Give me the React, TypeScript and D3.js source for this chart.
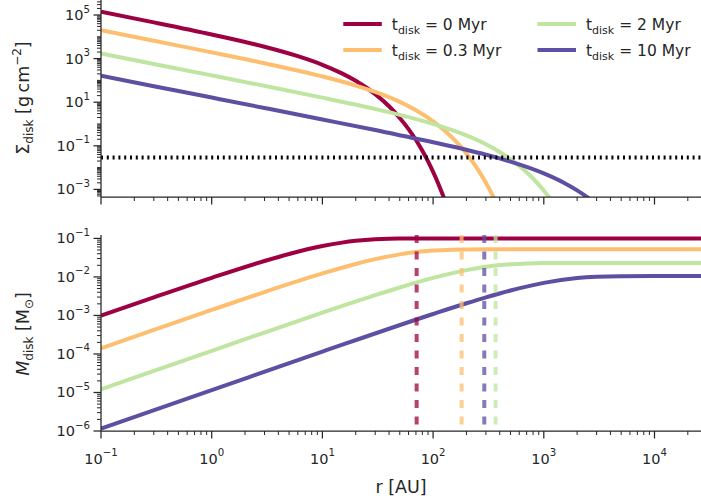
import React from 'react';
import * as d3 from 'd3';

// disk ages for each curve (Myr) and their colours
const ages = ['0', '0.3', '2', '10'];
const colors = ['#9e0142', '#fdbf6f', '#bfe5a0', '#5e4fa2'];

// surface density Sigma_disk [g cm^-2] vs r [AU]
const sigmaAge0: [number, number][] = [
  [0.1, 1.4e5], [0.3, 4.6e4], [1, 1.28e4], [3, 3.5e3], [6, 1.29e3], [10, 520],
  [15, 210], [20, 96], [30, 23.5], [40, 6.5], [50, 1.9], [60, 0.585], [70, 0.184],
  [80, 0.059], [90, 0.0194], [100, 0.0064], [110, 0.00215], [120, 7.2e-4], [130, 2.5e-4],
];
const sigmaAge03: [number, number][] = [
  [0.1, 1.98e4], [0.3, 6570], [1, 1935], [3, 611], [10, 152], [20, 58], [30, 29.5],
  [50, 10.3], [70, 4.28], [100, 1.33], [130, 0.455], [160, 0.164], [200, 0.0446],
  [250, 0.0092], [300, 0.002], [350, 4.5e-4], [400, 1.0e-4],
];
const sigmaAge2: [number, number][] = [
  [0.1, 1707], [0.3, 568], [1, 170], [3, 56], [10, 16.2], [30, 4.86], [50, 2.63],
  [100, 1.01], [200, 0.298], [300, 0.117], [400, 0.052], [500, 0.0246], [700, 0.0061],
  [900, 0.00166], [1100, 4.75e-4], [1300, 1.4e-4],
];
const sigmaAge10: [number, number][] = [
  [0.1, 163], [0.3, 54.3], [1, 16.3], [3, 5.42], [10, 1.61], [30, 0.526], [100, 0.146],
  [300, 0.0391], [500, 0.0188], [1000, 0.00543], [1500, 0.00209], [2000, 9.05e-4],
  [2500, 4.18e-4], [3000, 2.0e-4],
];

// enclosed disk mass M_disk [M_sun] vs r [AU]
const massAge0: [number, number][] = [
  [0.1, 9.95e-4], [0.3, 2.96e-3], [1, 9.5e-3], [3, 0.0259], [5, 0.0393], [10, 0.0632],
  [15, 0.0777], [20, 0.0865], [30, 0.095], [40, 0.0982], [50, 0.0993], [70, 0.1],
  [100, 0.1], [1000, 0.1], [26300, 0.1],
];
const massAge03: [number, number][] = [
  [0.1, 1.4e-4], [0.3, 4.2e-4], [1, 1.39e-3], [3, 4.05e-3], [10, 0.0123], [20, 0.0217],
  [30, 0.0289], [50, 0.0385], [70, 0.0442], [100, 0.0485], [150, 0.0511], [200, 0.0518],
  [300, 0.052], [1000, 0.052], [26300, 0.052],
];
const massAge2: [number, number][] = [
  [0.1, 1.21e-5], [0.3, 3.63e-5], [1, 1.21e-4], [3, 3.6e-4], [10, 1.18e-3], [30, 3.36e-3],
  [50, 5.32e-3], [100, 9.41e-3], [200, 0.015], [300, 0.0183], [500, 0.0213], [700, 0.0224],
  [1000, 0.0229], [2000, 0.023], [26300, 0.023],
];
const massAge10: [number, number][] = [
  [0.1, 1.15e-6], [1, 1.15e-5], [10, 1.15e-4], [100, 1.09e-3], [200, 2.07e-3],
  [300, 2.95e-3], [500, 4.44e-3], [1000, 7.0e-3], [2000, 9.33e-3], [3000, 0.0101],
  [5000, 0.01046], [10000, 0.0105], [26300, 0.0105],
];

const sigmaSeries = [sigmaAge0, sigmaAge03, sigmaAge2, sigmaAge10];
const massSeries = [massAge0, massAge03, massAge2, massAge10];

// dashed radii in the bottom panel (AU), per age
const dashedRadii = [71, 181, 367, 290];
// dotted threshold in the top panel (g cm^-2)
const sigmaThreshold = 0.029;

const xTickExps = [-1, 0, 1, 2, 3, 4];
const topTickExps = [-3, -1, 1, 3, 5];
const bottomTickExps = [-6, -5, -4, -3, -2, -1];

const ink = '#262626';
const font = '"DejaVu Sans", Verdana, sans-serif';

function logTicks(domain: number[], majorExps: number[]) {
  const lo = Math.floor(Math.log10(domain[0]));
  const hi = Math.ceil(Math.log10(domain[1]));
  const major: number[] = [];
  const minor: number[] = [];
  for (let e = lo; e <= hi; e++) {
    for (let k = 1; k < 10; k++) {
      const v = k * Math.pow(10, e);
      if (v < domain[0] * 0.9999 || v > domain[1] * 1.0001) continue;
      if (k === 1 && majorExps.includes(e)) major.push(e);
      else minor.push(v);
    }
  }
  return { major, minor };
}

function expText(e: number) {
  return e < 0 ? '\u2212' + Math.abs(e) : String(e);
}

export default function App() {
  const left = 101, right = 701;
  const topY0 = 0, topY1 = 197;
  const botY0 = 235, botY1 = 431;

  const x = d3.scaleLog().domain([0.1, Math.pow(10, 600 / 110.7 - 1)]).range([left, right]);
  const yTop = d3.scaleLog()
    .domain([Math.pow(10, -3 - 7.6 / 21.8), Math.pow(10, 5 + 15 / 21.8)])
    .range([topY1, topY0]);
  const yBot = d3.scaleLog()
    .domain([1e-6, Math.pow(10, -1 + 3.4 / 38.5)])
    .range([botY1, botY0]);

  const lineTop = d3.line<[number, number]>()
    .x(d => x(d[0])).y(d => yTop(d[1])).curve(d3.curveMonotoneX);
  const lineBot = d3.line<[number, number]>()
    .x(d => x(d[0])).y(d => yBot(d[1])).curve(d3.curveMonotoneX);

  const xt = logTicks(x.domain(), xTickExps);
  const ytt = logTicks(yTop.domain(), topTickExps);
  const ybt = logTicks(yBot.domain(), bottomTickExps);

  const majLen = 7.5, minLen = 4;
  const tickFs = 14.5, supFs = 10.2;

  const xAxis = (y0: number, labels: boolean) => (
    <g>
      {xt.minor.map((v, i) => (
        <line key={'m' + i} x1={x(v)} x2={x(v)} y1={y0} y2={y0 + minLen} stroke={ink} strokeWidth={1} />
      ))}
      {xt.major.map(e => (
        <g key={e}>
          <line x1={x(Math.pow(10, e))} x2={x(Math.pow(10, e))} y1={y0} y2={y0 + majLen} stroke={ink} strokeWidth={1.25} />
          {labels && (
            <text x={x(Math.pow(10, e))} y={y0 + 32.5} textAnchor="middle" fontSize={tickFs} fill={ink}>
              10<tspan dy={-7.5} fontSize={supFs}>{expText(e)}</tspan>
            </text>
          )}
        </g>
      ))}
      <line x1={left} x2={right} y1={y0} y2={y0} stroke={ink} strokeWidth={1.25} />
    </g>
  );

  const yAxis = (scale: d3.ScaleLogarithmic<number, number>, t: { major: number[]; minor: number[] }, y0: number, y1: number) => (
    <g>
      {t.minor.map((v, i) => (
        <line key={'m' + i} x1={left - minLen} x2={left} y1={scale(v)} y2={scale(v)} stroke={ink} strokeWidth={1} />
      ))}
      {t.major.map(e => (
        <g key={e}>
          <line x1={left - majLen} x2={left} y1={scale(Math.pow(10, e))} y2={scale(Math.pow(10, e))} stroke={ink} strokeWidth={1.25} />
          <text x={left - majLen - 3.5} y={scale(Math.pow(10, e)) + 5} textAnchor="end" fontSize={tickFs} fill={ink}>
            10<tspan dy={-7.5} fontSize={supFs}>{expText(e)}</tspan>
          </text>
        </g>
      ))}
      <line x1={left} x2={left} y1={y0} y2={y1} stroke={ink} strokeWidth={1.25} />
    </g>
  );

  const legendItems = [
    { col: 0, row: 0 }, { col: 0, row: 1 }, { col: 1, row: 0 }, { col: 1, row: 1 },
  ];
  const legendColX = [343.3, 537.5];
  const legendRowY = [24, 50];

  return (
    <svg width={701} height={501} style={{ position: 'absolute', left: 0, top: 0 }} fontFamily={font}>
      <defs>
        <clipPath id="clipTop"><rect x={left} y={topY0} width={right - left} height={topY1 - topY0} /></clipPath>
        <clipPath id="clipBot"><rect x={left} y={botY0 - 4} width={right - left} height={botY1 - botY0 + 4} /></clipPath>
      </defs>
      <rect x={0} y={0} width={701} height={501} fill="#fff" />

      {/* top panel */}
      <g clipPath="url(#clipTop)">
        {sigmaSeries.map((s, i) => (
          <path key={i} d={lineTop(s) || ''} fill="none" stroke={colors[i]} strokeWidth={4} />
        ))}
        <line x1={left} x2={right} y1={yTop(sigmaThreshold)} y2={yTop(sigmaThreshold)}
          stroke="#000" strokeWidth={4} strokeDasharray="2 3.8" />
      </g>
      {xAxis(topY1, false)}
      {yAxis(yTop, ytt, topY0, topY1)}

      {legendItems.map((it, i) => {
        const lx = legendColX[it.col];
        const ly = legendRowY[it.row];
        return (
          <g key={i}>
            <line x1={lx} x2={lx + 38.5} y1={ly} y2={ly} stroke={colors[i]} strokeWidth={4} />
            <text x={lx + 48.5} y={ly + 5.5} fontSize={15.5} fill={ink}>
              t<tspan dy={4} fontSize={11}>disk</tspan><tspan dy={-4}>{' = ' + ages[i] + ' Myr'}</tspan>
            </text>
          </g>
        );
      })}

      {/* bottom panel */}
      <g clipPath="url(#clipBot)">
        {massSeries.map((s, i) => (
          <path key={i} d={lineBot(s) || ''} fill="none" stroke={colors[i]} strokeWidth={4} />
        ))}
        {dashedRadii.map((r, i) => (
          <line key={'d' + i} x1={x(r)} x2={x(r)} y1={botY0} y2={botY1} stroke={colors[i]}
            strokeOpacity={0.75} strokeWidth={4} strokeDasharray="8 8.5" />
        ))}
      </g>
      {xAxis(botY1, true)}
      {yAxis(yBot, ybt, botY0, botY1)}

      {/* axis labels */}
      <text transform="translate(28.5,98) rotate(-90)" textAnchor="middle" fontSize={17.5} fill={ink}>
        Σ<tspan dy={4} fontSize={12}>disk</tspan><tspan dy={-4}>{' [g\u2009cm'}</tspan>
        <tspan dy={-7.5} fontSize={12}>{'\u22122'}</tspan><tspan dy={7.5}>]</tspan>
      </text>
      <text transform="translate(28.5,334) rotate(-90)" textAnchor="middle" fontSize={17.5} fill={ink}>
        <tspan fontStyle="italic">M</tspan><tspan dy={4} fontSize={12}>disk</tspan><tspan dy={-4}>{' [M'}</tspan>
        <tspan dy={4} fontSize={12}>{'\u2299'}</tspan><tspan dy={-4}>]</tspan>
      </text>
      <text x={(left + right) / 2} y={493} textAnchor="middle" fontSize={17.5} fill={ink}>r [AU]</text>
    </svg>
  );
}
